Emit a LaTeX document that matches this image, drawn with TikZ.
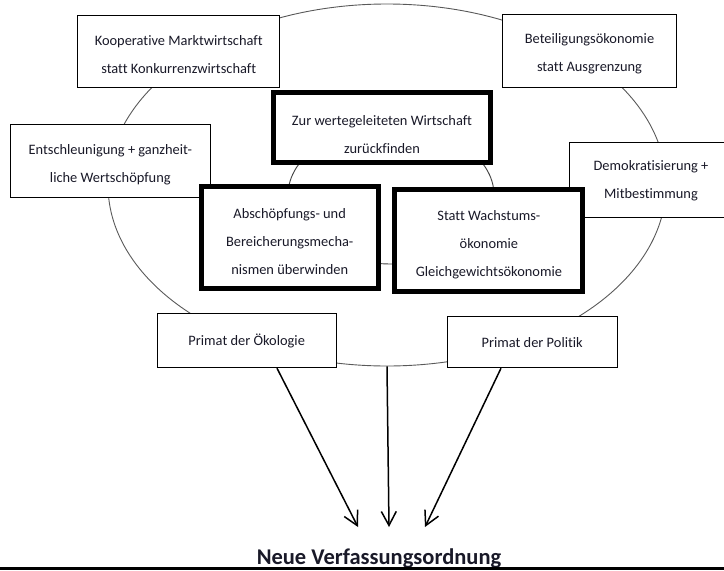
\documentclass[tikz,border=0pt]{standalone}
\usepackage{fontspec}
\setmainfont[Ligatures=NoCommon]{Carlito}
\usetikzlibrary{arrows.meta,shapes.geometric}
\definecolor{txt}{RGB}{25,25,40}
\tikzset{
  thinbox/.style={draw=black,line width=1pt,fill=white,inner sep=0pt,rectangle},
  thickbox/.style={draw=black,line width=5pt,fill=white,inner sep=0pt,rectangle},
  lbl/.style={align=center,font=\fontsize{14.4}{28}\selectfont,inner sep=0pt,text=txt},
  ring/.style={draw=black!65,line width=0.9pt,ellipse,inner sep=0pt},
  arr/.style={-{Straight Barb[length=14pt,width=15pt]},line width=1.5pt},
}
\begin{document}
\begin{tikzpicture}[x=1pt,y=-1pt]
\useasboundingbox (0,0) rectangle (724,571);
\clip (0,0) rectangle (724,571);
% rings
\node[ring,minimum width=558pt,minimum height=362pt] (outer) at (387,185) {};
\node[ring,draw=black!75,minimum width=206pt,minimum height=138pt] (inner) at (391,195) {};
% thin boxes
\node[thinbox,minimum width=202pt,minimum height=72pt] (km) at (178.7,51) {};
\node[lbl] (kmt) at (178.7,55) {Kooperative Marktwirtschaft\\statt Konkurrenzwirtschaft};
\node[thinbox,minimum width=174.5pt,minimum height=73pt] (bo) at (589.5,50.5) {};
\node[lbl] (bot) at (589.5,54) {Beteiligungsökonomie\\statt Ausgrenzung};
\node[thinbox,minimum width=200.3pt,minimum height=73.4pt] (en) at (110.3,161) {};
\node[lbl] (ent) at (110.3,164.7) {Entschleunigung + ganzheit-\\liche Wertschöpfung};
\node[thinbox,minimum width=162.6pt,minimum height=75pt] (de) at (651,179.8) {};
\node[lbl] (det) at (651,180.8) {Demokratisierung +\\Mitbestimmung};
\node[thinbox,minimum width=178.6pt,minimum height=54pt] (po) at (246.7,340.7) {};
\node[lbl] (pot) at (246.7,340.7) {Primat der Ökologie};
\node[thinbox,minimum width=170.3pt,minimum height=51.7pt] (pp) at (532.2,341.9) {};
\node[lbl] (ppt) at (532.2,342.7) {Primat der Politik};
% thick boxes
\node[thickbox,minimum width=217pt,minimum height=70.3pt] (zu) at (382,127.6) {};
\node[lbl] (zut) at (382,134.5) {Zur wertegeleiteten Wirtschaft\\zurückfinden};
\node[thickbox,minimum width=177.4pt,minimum height=102.3pt] (ab) at (289.7,237.3) {};
\node[lbl] (abt) at (289.7,241.5) {Abschöpfungs- und\\Bereicherungsmecha-\\nismen überwinden};
\node[thickbox,minimum width=188pt,minimum height=102pt] (st) at (488.9,240.8) {};
\node[lbl] (stt) at (488.9,245) {Statt Wachstums-\\ökonomie\\Gleichgewichtsökonomie};
% arrows
\coordinate (e1) at (358,527);
\coordinate (e2) at (389,527);
\coordinate (e3) at (425,527);
\draw[arr] ([xshift=30.3pt]po.south) -- (e1);
\draw[arr] (outer.south) -- (e2);
\draw[arr] ([xshift=-31.2pt]pp.south) -- (e3);
% title
\node[font=\fontsize{22.5}{27}\selectfont\bfseries,anchor=base,inner sep=0pt,text=txt] (title) at (379,564) {Neue Verfassungsordnung};
\draw[line width=3pt] (0,568.5) -- (724,568.5);
\end{tikzpicture}
\end{document}
